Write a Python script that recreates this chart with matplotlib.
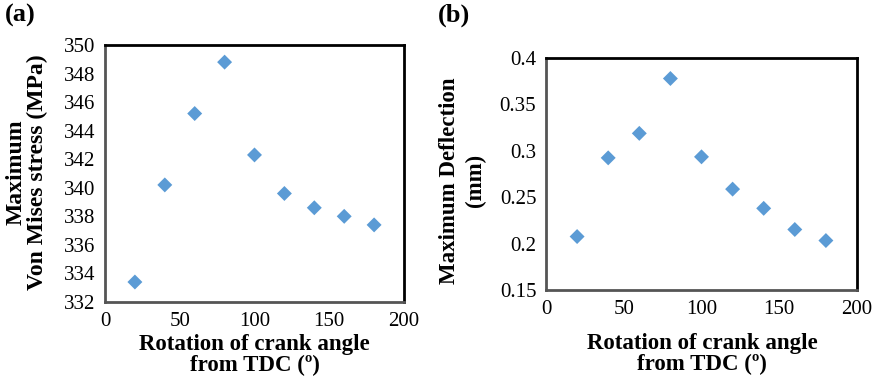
import matplotlib
matplotlib.use("Agg")
import matplotlib.pyplot as plt

plt.rcParams['font.family'] = ['Liberation Serif', 'DejaVu Serif']

angles = [20, 40, 60, 80, 100, 120, 140, 160, 180]
stress = [333.4, 340.2, 345.2, 348.8, 342.3, 339.6, 338.6, 338.0, 337.4]
deflection = [0.2076, 0.2924, 0.3188, 0.3779, 0.2935, 0.2587, 0.238, 0.2152, 0.2033]

x_ticks = [0, 50, 100, 150, 200]
stress_ticks = [332, 334, 336, 338, 340, 342, 344, 346, 348, 350]
defl_ticks = [0.15, 0.2, 0.25, 0.3, 0.35, 0.4]
defl_labels = ['0.15', '0.2', '0.25', '0.3', '0.35', '0.4']

W, H = 877, 383
fig = plt.figure(figsize=(W / 100, H / 100), dpi=100)

def frac(x0, y0, x1, y1):
    return [x0 / W, 1 - y1 / H, (x1 - x0) / W, (y1 - y0) / H]

axA = fig.add_axes(frac(105, 45, 404, 302))
axB = fig.add_axes(frac(546, 58, 857, 290))

color = '#5B9BD5'
tick_fs = 15
lab_fs = 16.5

def style(ax):
    for s in ['left', 'bottom']:
        ax.spines[s].set_color('#555555')
        ax.spines[s].set_linewidth(2.0)
    for s in ['top', 'right']:
        ax.spines[s].set_color('black')
        ax.spines[s].set_linewidth(2.0)
    ax.tick_params(length=0, labelsize=tick_fs, pad=7)
    ax.set_xlim(0, 200)
    ax.set_xticks(x_ticks)
    ax.set_xticklabels([str(t) for t in x_ticks])

axA.scatter(angles, stress, marker='D', s=58, color=color, edgecolors='none', zorder=3)
axA.set_ylim(332, 350)
axA.set_yticks(stress_ticks)
axA.set_yticklabels([str(t) for t in stress_ticks])
style(axA)

axB.scatter(angles, deflection, marker='D', s=58, color=color, edgecolors='none', zorder=3)
axB.set_ylim(0.15, 0.4)
axB.set_yticks(defl_ticks)
axB.set_yticklabels(defl_labels)
style(axB)

xlab = 'Rotation of crank angle\nfrom TDC (º)'
fig.text(254.5 / W, 1 - 355 / H, xlab, fontsize=lab_fs, fontweight='bold',
         ha='center', va='center', linespacing=1.0)
fig.text(702 / W, 1 - 354 / H, xlab, fontsize=lab_fs, fontweight='bold',
         ha='center', va='center', linespacing=1.0)

fig.text(27 / W, 1 - 172 / H, 'Maximum\nVon Mises stress (MPa)', fontsize=lab_fs + 0.5,
         fontweight='bold', rotation=90, ha='center', va='center', linespacing=1.0,
         multialignment='center')
fig.text(462.5 / W, 1 - 180.5 / H, 'Maximum Deflection\n(mm)', fontsize=lab_fs,
         fontweight='bold', rotation=90, ha='center', va='center', linespacing=1.3,
         multialignment='center')

fig.text(5 / W, 1 - 4 / H, '(a)', fontsize=19, fontweight='bold', va='top', ha='left')
fig.text(438 / W, 1 - 4 / H, '(b)', fontsize=19, fontweight='bold', va='top', ha='left')

fig.savefig('out.png', dpi=100)
